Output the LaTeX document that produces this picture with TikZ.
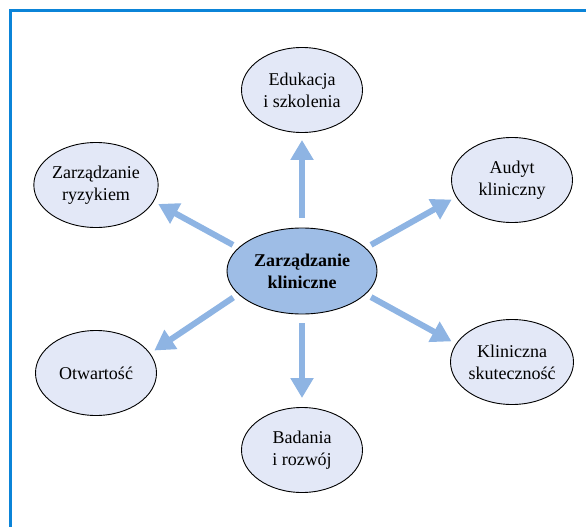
\documentclass[tikz,border=0pt]{standalone}
\usepackage{fontspec}
\setmainfont{Liberation Serif}
\usepackage{xcolor}
\usepackage{tikz}
\usetikzlibrary{arrows.meta,shapes}

\definecolor{framecol}{HTML}{0B84D8}
\definecolor{areafill}{HTML}{E3E8F7}
\definecolor{corefill}{HTML}{9EBDE6}
\definecolor{flowcol}{HTML}{8EB4E3}

\begin{document}
\begin{tikzpicture}[x=1pt,y=-1pt,font=\fontsize{18}{22}\selectfont]
        \tikzstyle{area} = [draw, ellipse, fill=areafill, line width=0.9pt, minimum width=121pt, minimum height=85pt, inner sep=0pt, align=center]
        \tikzstyle{core} = [area, fill=corefill, minimum width=150pt, minimum height=86pt, font=\fontsize{18}{22}\selectfont\bfseries]
        \tikzstyle{flow} = [draw=flowcol, line width=6pt, -{Triangle[width=22pt,length=20pt]}]
        \useasboundingbox (0,0) rectangle (586,527);
        \draw[framecol, line width=3pt] (10,527) -- (10,11) -- (586,11);

        \node[core] (zk) at (302,271) {Zarządzanie\\kliniczne};
        \node[area] (es) at (302,90) {Edukacja\\i szkolenia};
        \node[area] (zr) at (96,185) {Zarządzanie\\ryzykiem};
        \node[area] (ak) at (512,180) {Audyt\\kliniczny};
        \node[area] (ot) at (96,373) {Otwartość};
        \node[area] (ks) at (512,362) {Kliniczna\\skuteczność};
        \node[area] (br) at (302,450) {Badania\\i rozwój};

        \draw [flow, shorten <=10pt, shorten >=7pt] (zk) -- (es);
        \draw [flow, shorten <=9pt, shorten >=9pt] (zk) -- (br);
        \draw [flow, shorten <=6pt, shorten >=5pt] (zk.160) -- (zr.-16);
        \draw [flow, shorten <=6pt, shorten >=5pt] (zk.200) -- (ot.20);
        \draw [flow, shorten <=6pt, shorten >=5pt] (zk.20) -- (ak.197);
        \draw [flow, shorten <=6pt, shorten >=5pt] (zk.-20) -- (ks.162);
\end{tikzpicture}
\end{document}
